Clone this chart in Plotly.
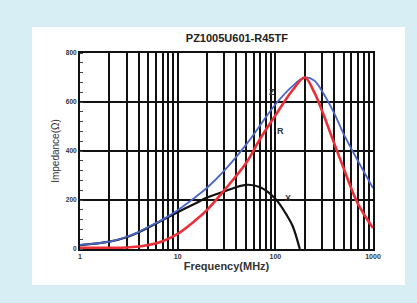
import math
import plotly.graph_objects as go

# ---- data ----
freq_z = [1, 2, 3, 4, 5, 7, 10, 15, 20, 30, 50, 70, 100, 150, 200, 250, 300, 400, 500, 700, 1000]
z_vals = [17, 30, 50, 70, 90, 120, 158, 210, 250, 320, 425, 505, 590, 665, 700, 688, 645, 555, 470, 360, 249]

freq_r = [1, 2, 3, 4, 5, 7, 10, 15, 20, 30, 50, 70, 100, 150, 200, 250, 300, 400, 500, 700, 1000]
r_vals = [5, 5, 6, 10, 16, 32, 62, 115, 160, 240, 350, 450, 545, 648, 700, 640, 565, 432, 330, 185, 86]

freq_x = [1, 2, 3, 4, 5, 7, 10, 15, 20, 30, 50, 70, 100, 130, 150, 178]
x_vals = [16, 30, 48, 68, 88, 118, 150, 185, 210, 235, 262, 252, 205, 140, 95, 0]

x_tickvals = [m * 10 ** d for d in range(3) for m in range(1, 10)] + [1000]
x_ticktext = ["<b>%d</b>" % v if v in (1, 10, 100, 1000) else "" for v in x_tickvals]
y_tickvals = [0, 200, 400, 600, 800]
y_ticktext = ["<b>%d</b>" % v for v in y_tickvals]

labels = [("Z", 92, 641), ("R", 114, 481), ("X", 135, 208)]

fig = go.Figure()
fig.add_trace(go.Scatter(x=freq_x, y=x_vals, mode="lines",
                         line=dict(color="#111111", width=2.2, shape="spline"), name="X"))
fig.add_trace(go.Scatter(x=freq_z, y=z_vals, mode="lines",
                         line=dict(color="#4a66c8", width=1.8, shape="spline"), name="Z"))
fig.add_trace(go.Scatter(x=freq_r, y=r_vals, mode="lines",
                         line=dict(color="#ec2f37", width=2.6, shape="spline"), name="R"))

for txt, fx, fy in labels:
    fig.add_annotation(x=math.log10(fx), y=fy, xref="x", yref="y", text="<b>%s</b>" % txt,
                       showarrow=False,
                       font=dict(family="Liberation Sans", size=9, color="#333333"))

# white panel behind the chart
fig.add_shape(type="rect", xref="paper", yref="paper", layer="below",
              x0=-48 / 293, x1=(405 - 80) / 293, y0=-36 / 196, y1=(249 - 27) / 196,
              fillcolor="white", line=dict(width=0))

fig.update_layout(
    width=417, height=303,
    margin=dict(l=80, r=44, t=53, b=54),
    paper_bgcolor="#d7eef5", plot_bgcolor="white",
    showlegend=False,
    title=dict(text="<b>PZ1005U601-R45TF</b>", xref="container", x=0.568, xanchor="center",
               yref="container", y=1 - 38 / 303, yanchor="middle",
               font=dict(family="Liberation Sans", size=11, color="#222222")),
    font=dict(family="Liberation Sans", color="#333333"),
)
fig.update_xaxes(
    type="log", range=[0, 3],
    tickvals=x_tickvals, ticktext=x_ticktext,
    showgrid=True, gridcolor="#111111", gridwidth=1.8,
    showline=True, linecolor="#111111", linewidth=2, mirror=True,
    ticks="", tickfont=dict(size=7, family="Liberation Sans", color="#333333"),
    title=dict(text="<b>Frequency(MHz)</b>", font=dict(size=11, color="#333333"), standoff=1),
    zeroline=False,
)
fig.update_yaxes(
    range=[0, 800], tickvals=y_tickvals, ticktext=y_ticktext,
    showgrid=True, gridcolor="#111111", gridwidth=2.2,
    showline=True, linecolor="#111111", linewidth=2, mirror=True,
    ticks="", tickfont=dict(size=6.5, family="Liberation Sans", color="#333333"),
    minor=dict(dtick=40, ticks="inside", ticklen=3, tickcolor="#444444", showgrid=False),
    title=dict(text="Impedance(Ω)", font=dict(size=10, color="#333333"), standoff=4),
    zeroline=False,
)

fig.write_html("out.html", config={"displayModeBar": False},
               post_script="document.body.style.margin='0';"
                           "document.body.style.background='#d7eef5';")
